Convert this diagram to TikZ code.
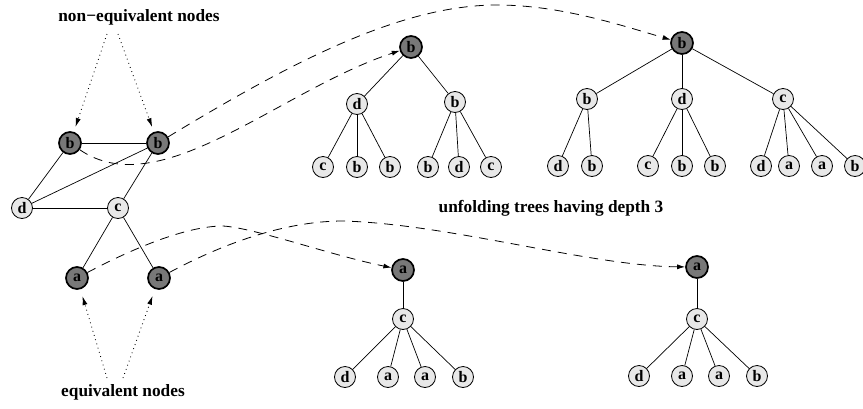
\documentclass[tikz,border=0pt]{standalone}
\usepackage{fontspec}
\setmainfont{Liberation Serif}
\usetikzlibrary{arrows.meta}
\definecolor{darkfill}{gray}{0.47}
\definecolor{lightfill}{gray}{0.91}

\begin{document}
\begin{tikzpicture}[x=1pt,y=-1pt,
  vtx/.style={circle,draw,line width=0.8pt,fill=lightfill,minimum size=21pt,
    inner sep=0pt,font=\fontsize{16}{16}\selectfont\bfseries},
  dark/.style={vtx,fill=darkfill,line width=1.7pt,minimum size=22pt},
  edge/.style={line width=0.7pt},
  link/.style={line width=0.8pt,dash pattern=on 9pt off 7pt,
    -{Latex[length=8pt,width=5pt]}},
  pointer/.style={line width=0.9pt,dash pattern=on 0.8pt off 3.6pt,
    -{Latex[length=9pt,width=5pt]},shorten >=5pt},
  caption/.style={font=\fontsize{17.3}{18}\selectfont\bfseries}]

\useasboundingbox (0,0) rectangle (863,408);

% ---- the graph ----
\node[dark] (gb1) at (70,143) {b};
\node[dark] (gb2) at (158,143) {b};
\node[vtx]  (gd)  at (22,208) {d};
\node[vtx]  (gc)  at (118,208) {c};
\node[dark] (ga1) at (77,278) {a};
\node[dark] (ga2) at (159,278) {a};
\draw[edge] (gb1) -- (gb2);
\draw[edge] (gb1) -- (gd);
\draw[edge] (gd) -- (gb2);
\draw[edge] (gd) -- (gc);
\draw[edge] (gc) -- (gb2);
\draw[edge] (gc) -- (ga1);
\draw[edge] (gc) -- (ga2);

% ---- captions and pointers ----
\node[caption] (nonEq) at (139,17) {non−equivalent nodes};
\node[caption] (eq) at (123,392) {equivalent nodes};
\node[caption] (depth) at (551,208) {unfolding trees having depth 3};
\coordinate (p1) at (107,34);
\coordinate (p2) at (118,34);
\coordinate (p3) at (107,378);
\coordinate (p4) at (123,378);
\draw[pointer] (p1) -- (gb1);
\draw[pointer] (p2) -- (gb2);
\draw[pointer,shorten >=7pt] (p3) -- (ga1);
\draw[pointer,shorten >=7pt] (p4) -- (ga2);

% ---- tree of the first b ----
\node[dark] (r1) at (411,47) {b};
\node[vtx] (r1d) at (357,104) {d};
\node[vtx] (r1b) at (455,102) {b};
\node[vtx] (r1l1) at (323,167) {c};
\node[vtx] (r1l2) at (357,167) {b};
\node[vtx] (r1l3) at (390,167) {b};
\node[vtx] (r1l4) at (428,167) {b};
\node[vtx] (r1l5) at (459,167) {d};
\node[vtx] (r1l6) at (491,167) {c};
\draw[edge] (r1) -- (r1d);
\draw[edge] (r1) -- (r1b);
\foreach \k in {1,2,3} \draw[edge] (r1d) -- (r1l\k);
\foreach \k in {4,5,6} \draw[edge] (r1b) -- (r1l\k);

% ---- tree of the second b ----
\node[dark] (r2) at (682,43) {b};
\node[vtx] (r2b) at (587,99) {b};
\node[vtx] (r2d) at (682,99) {d};
\node[vtx] (r2c) at (783,99) {c};
\node[vtx] (r2l1) at (558,166) {d};
\node[vtx] (r2l2) at (592,166) {b};
\node[vtx] (r2l3) at (648,166) {c};
\node[vtx] (r2l4) at (682,166) {b};
\node[vtx] (r2l5) at (715,166) {b};
\node[vtx] (r2l6) at (761,166) {d};
\node[vtx] (r2l7) at (789,166) {a};
\node[vtx] (r2l8) at (822,166) {a};
\node[vtx] (r2l9) at (855,166) {b};
\draw[edge] (r2) -- (r2b);
\draw[edge] (r2) -- (r2d);
\draw[edge] (r2) -- (r2c);
\foreach \k in {1,2} \draw[edge] (r2b) -- (r2l\k);
\foreach \k in {3,4,5} \draw[edge] (r2d) -- (r2l\k);
\foreach \k in {6,7,8,9} \draw[edge] (r2c) -- (r2l\k);

% ---- tree of the first a ----
\node[dark] (r3) at (403,270) {a};
\node[vtx] (r3c) at (403,319) {c};
\node[vtx] (r3l1) at (345,377) {d};
\node[vtx] (r3l2) at (388,377) {a};
\node[vtx] (r3l3) at (425,377) {a};
\node[vtx] (r3l4) at (463,377) {b};
\draw[edge] (r3) -- (r3c);
\foreach \k in {1,...,4} \draw[edge] (r3c) -- (r3l\k);

% ---- tree of the second a ----
\node[dark] (r4) at (697,267) {a};
\node[vtx] (r4c) at (697,319) {c};
\node[vtx] (r4l1) at (639,376) {d};
\node[vtx] (r4l2) at (682,376) {a};
\node[vtx] (r4l3) at (719,376) {a};
\node[vtx] (r4l4) at (757,376) {b};
\draw[edge] (r4) -- (r4c);
\foreach \k in {1,...,4} \draw[edge] (r4c) -- (r4l\k);

% ---- links from graph nodes to their trees ----
\draw[link] (gb1) .. controls (160,205) and (280,90) .. (r1);
\draw[link] (gb2) .. controls (290,63) and (400,5) .. (497,5)
  .. controls (560,5) and (620,25) .. (r2);
\draw[link] (ga1) .. controls (130,250) and (185,226) .. (223,226)
  .. controls (255,228) and (330,255) .. (r3);
\draw[link] (ga2) .. controls (230,240) and (290,221) .. (343,221)
  .. controls (450,224) and (590,266) .. (r4);
\end{tikzpicture}
\end{document}
